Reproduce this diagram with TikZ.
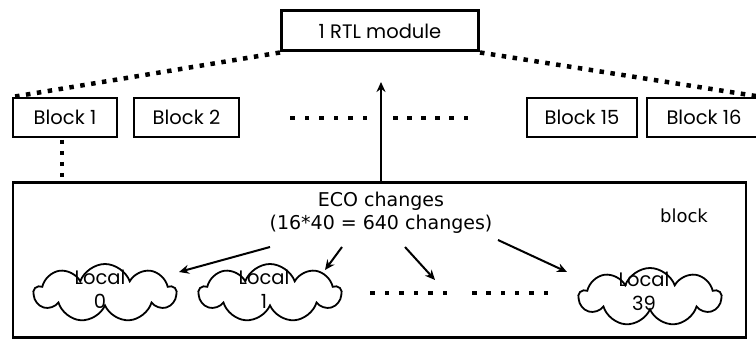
\documentclass[tikz,border=0pt]{standalone}
\usepackage{fontspec}
\setmainfont{Poppins}
\newfontfamily\tahoma{DejaVu Sans}
\usetikzlibrary{shapes.symbols,arrows.meta,calc}
\begin{document}
\begin{tikzpicture}[x=1pt,y=-1pt,
  box/.style={draw, line width=2pt, minimum height=39pt, inner sep=0pt,
    font=\fontsize{19.5}{22}\selectfont},
  dotline/.style={line width=4.5pt, dash pattern=on 4.5pt off 6.5pt},
  arr/.style={line width=2pt, -{Stealth[length=10pt,width=9pt]}},
  cloudshape/.style={cloud, draw, line width=1.8pt, cloud puffs=9, cloud puff arc=140,
    aspect=2.4, minimum width=142pt, minimum height=58pt, inner sep=0pt},
  localtxt/.style={align=center, inner sep=0pt, font=\fontsize{19.5}{24}\selectfont},
  ecotxt/.style={align=center, inner sep=0pt, font=\tahoma\fontsize{19}{23}\selectfont}]
\useasboundingbox (0,0) rectangle (756,339);
\clip (0,0) rectangle (756,339);
% top module
\node[box, line width=3pt, minimum width=197pt, minimum height=40pt] (rtl) at (380,31) {1 RTL module};
% blocks
\node[box, minimum width=104pt] (b1) at (65,117.5) {Block 1};
\node[box, minimum width=105pt] (b2) at (186.5,117.5) {Block 2};
\node[box, minimum width=110pt] (b15) at (582,117.5) {Block 15};
\node[box, minimum width=114pt] (b16) at (704,117.5) {Block 16};
% big block
\node[draw, line width=2.5pt, minimum width=733pt, minimum height=155pt, inner sep=0pt] (blk) at (379.5,260) {};
% dotted fan-out
\draw[dotline] (rtl.south west) -- (b1.north west);
\draw[dotline] (rtl.south east) -- (b16.north east);
\draw[dotline] ([xshift=-3pt,yshift=-2pt]b1.south) -- ([xshift=-3pt]b1.south |- blk.north);
% middle dots
\foreach \i in {0,...,5} {
  \fill ({290+\i*14.5},116) rectangle ++(4.5,4.5);
  \fill ({393+\i*14.1},116) rectangle ++(4.5,4.5);
  \fill ({370+\i*14.5},291) rectangle ++(4.5,4.5);
  \fill ({472+\i*14.3},291) rectangle ++(4.5,4.5);
}
% arrow up
\coordinate (up) at (381,82);
\draw[arr] (blk.north -| up) -- (up);
% text
\node[ecotxt] (eco) at (381,213) {ECO changes\\(16*40 = 640 changes)};
\node[ecotxt, font=\tahoma\fontsize{18}{22}\selectfont] (blabel) at (684,216) {block};
% clouds
\node[cloudshape] (c0) at (105,293) {};
\node[cloudshape] (c1) at (270,293) {};
\node[cloudshape] (c39) at (650,297) {};
\node[localtxt] (t0) at (100,289) {Local\\0};
\node[localtxt] (t1) at (264,289) {Local\\1};
\node[localtxt] (t39) at (644,291) {Local\\39};
% arrows to clouds
\coordinate (s0) at (270,247); \coordinate (e0) at (179,272);
\coordinate (s1) at (342,247); \coordinate (e1) at (325,270);
\coordinate (s2) at (405,247); \coordinate (e2) at (435,280);
\coordinate (s3) at (498,240); \coordinate (e3) at (567,272);
\draw[arr] (s0) -- (e0);
\draw[arr] (s1) -- (e1);
\draw[arr] (s2) -- (e2);
\draw[arr] (s3) -- (e3);
\end{tikzpicture}
\end{document}
